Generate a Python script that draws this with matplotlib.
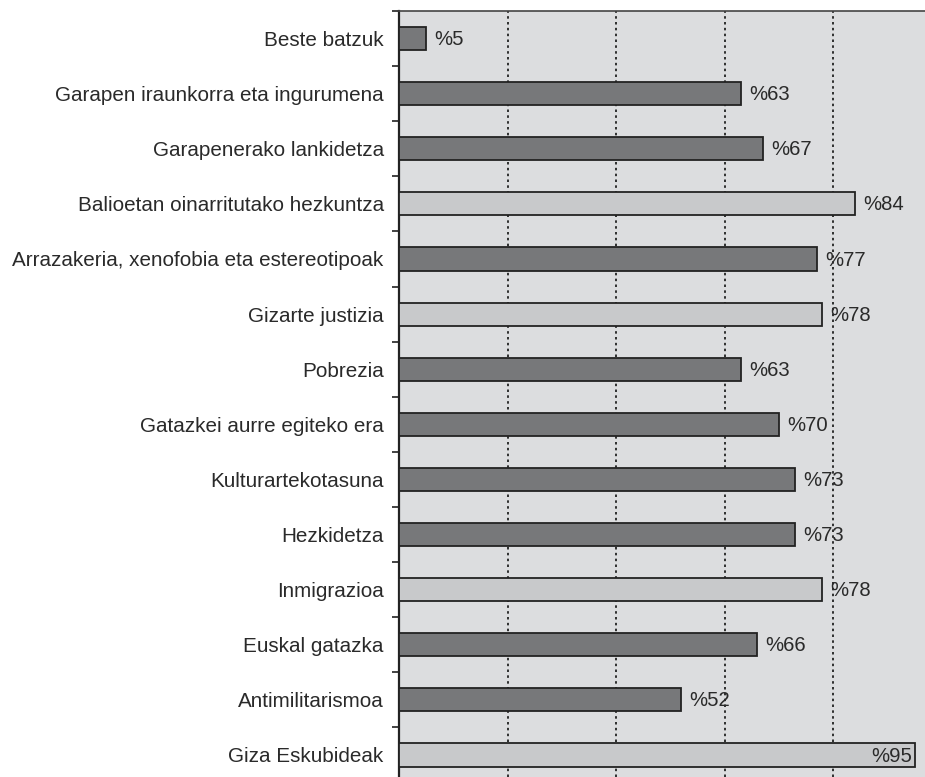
import matplotlib
matplotlib.use("Agg")
import matplotlib.pyplot as plt

plt.rcParams['font.family'] = ['Liberation Sans', 'DejaVu Sans']

categories = ["Beste batzuk", "Garapen iraunkorra eta ingurumena", "Garapenerako lankidetza",
              "Balioetan oinarritutako hezkuntza", "Arrazakeria, xenofobia eta estereotipoak",
              "Gizarte justizia", "Pobrezia", "Gatazkei aurre egiteko era", "Kulturartekotasuna",
              "Hezkidetza", "Inmigrazioa", "Euskal gatazka", "Antimilitarismoa", "Giza Eskubideak"]
values = [5, 63, 67, 84, 77, 78, 63, 70, 73, 73, 78, 66, 52, 95]
highlight = [False, False, False, True, False, True, False, False, False, False, True, False, False, True]

dark = "#77787a"
light = "#c8c9cb"

fig = plt.figure(figsize=(9.25, 7.77), dpi=100)
ax = fig.add_axes([399 / 925, 0.0, 1 - 399 / 925, 1 - 11 / 777])
ax.set_facecolor("#dcdddf")

pos = list(range(len(categories)))
colors = [light if h else dark for h in highlight]
ax.barh(pos, values, height=0.42, color=colors, edgecolor="#222222", linewidth=1.3, zorder=3)

for p, v in zip(pos, values):
    if v > 90:
        ax.text(v - 0.5, p + 0.02, f"%{v}", ha="right", va="center", fontsize=14.6, color="#2a2a2a", zorder=4)
    else:
        ax.text(v + 1.5, p + 0.02, f"%{v}", ha="left", va="center", fontsize=14.6, color="#2a2a2a", zorder=4)

ax.set_xlim(0, 96.9)
ax.set_ylim(13.4, -0.5)
ax.set_xticks([20, 40, 60, 80])
ax.xaxis.grid(True, linestyle=(0, (1.5, 2)), color="#111111", linewidth=1.2, zorder=1)
ax.tick_params(axis="x", length=0, labelbottom=False)

ax.set_yticks(pos)
ax.set_yticklabels(categories, fontsize=14.9, color="#2a2a2a")
ax.tick_params(axis="y", which="major", length=0, pad=11)
ax.set_yticks([p - 0.5 for p in pos], minor=True)
ax.tick_params(axis="y", which="minor", length=5, width=1.2, color="#222222", direction="out")

ax.spines["left"].set_linewidth(1.6)
ax.spines["left"].set_color("#222222")
ax.spines["top"].set_linewidth(1.2)
ax.spines["top"].set_color("#444444")
ax.spines["right"].set_visible(False)
ax.spines["bottom"].set_visible(False)

plt.savefig("out.png", dpi=100)
